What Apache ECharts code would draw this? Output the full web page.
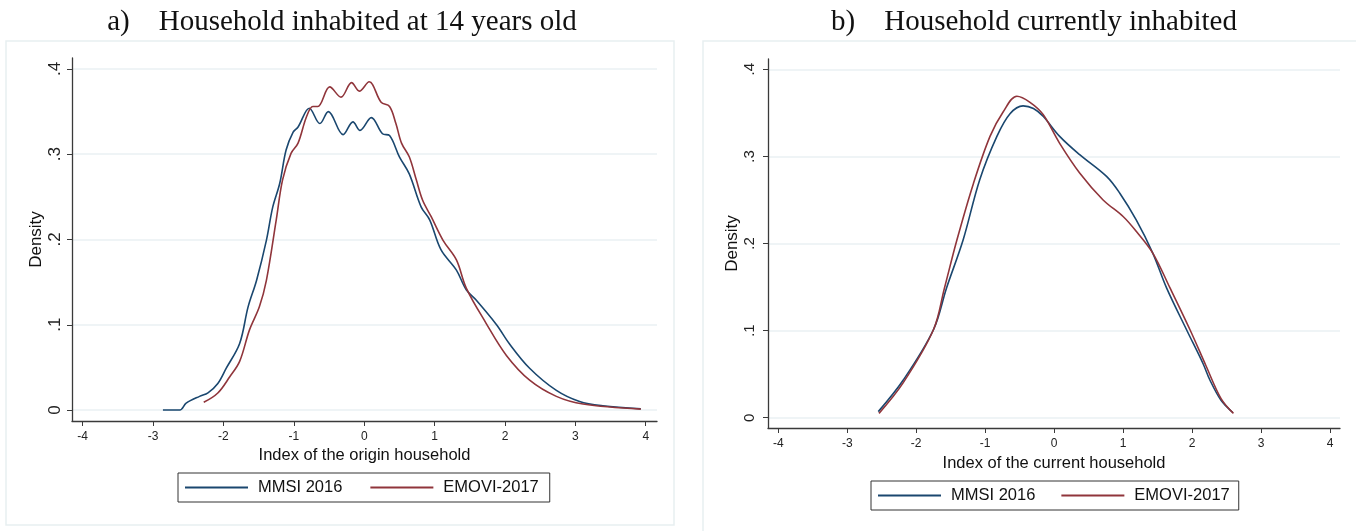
<!DOCTYPE html>
<html>
<head>
<meta charset="utf-8">
<script src="https://cdn.jsdelivr.net/npm/echarts@6/dist/echarts.min.js"></script>
<style>
  html, body { margin: 0; padding: 0; background: #fff; }
  #main { width: 1356px; height: 531px; }
</style>
</head>
<body>
<div id="main"></div>
<script>
// panel titles
var panelTitles = ['a)    Household inhabited at 14 years old', 'b)    Household currently inhabited'];
var axisNames = ['Index of the origin household', 'Index of the current household'];
var seriesNames = ['MMSI 2016', 'EMOVI-2017'];

// tick values and labels
var xTicks = [-4, -3, -2, -1, 0, 1, 2, 3, 4];
var yTicks = [0, 0.1, 0.2, 0.3, 0.4];
var yTickLabels = ['0', '.1', '.2', '.3', '.4'];

// a) origin household density [index, density]
var originMMSI = [
  [-2.86, 0], [-2.62, 0], [-2.53, 0.008], [-2.34, 0.016], [-2.22, 0.020], [-2.08, 0.031],
  [-1.96, 0.049], [-1.77, 0.078], [-1.65, 0.121], [-1.53, 0.152], [-1.39, 0.199], [-1.30, 0.238],
  [-1.20, 0.266], [-1.11, 0.305], [-1.01, 0.326], [-0.94, 0.332], [-0.78, 0.354], [-0.63, 0.336],
  [-0.51, 0.350], [-0.30, 0.323], [-0.16, 0.338], [-0.06, 0.328], [0.10, 0.343], [0.26, 0.324],
  [0.36, 0.322], [0.50, 0.297], [0.64, 0.277], [0.81, 0.238], [0.93, 0.223], [1.09, 0.188],
  [1.31, 0.164], [1.45, 0.141], [1.59, 0.129], [1.88, 0.100], [2.06, 0.078], [2.35, 0.049],
  [2.73, 0.023], [3.06, 0.010], [3.39, 0.005], [3.93, 0.0015]
];
var originEMOVI = [
  [-2.28, 0.009], [-2.08, 0.020], [-1.91, 0.039], [-1.77, 0.057], [-1.63, 0.094], [-1.49, 0.121],
  [-1.39, 0.152], [-1.25, 0.223], [-1.16, 0.270], [-1.04, 0.301], [-0.94, 0.313], [-0.82, 0.344],
  [-0.73, 0.356], [-0.66, 0.356], [-0.49, 0.379], [-0.33, 0.367], [-0.18, 0.384], [-0.07, 0.374],
  [0.07, 0.385], [0.24, 0.361], [0.36, 0.356], [0.45, 0.336], [0.53, 0.313], [0.64, 0.297],
  [0.74, 0.270], [0.83, 0.246], [0.95, 0.227], [1.12, 0.199], [1.31, 0.176], [1.45, 0.143],
  [1.73, 0.102], [2.02, 0.064], [2.35, 0.035], [2.73, 0.016], [3.11, 0.007], [3.93, 0.001]
];

// b) current household density
var currentMMSI = [
  [-2.55, 0.007], [-2.19, 0.043], [-1.75, 0.101], [-1.56, 0.149], [-1.32, 0.204], [-1.08, 0.273],
  [-0.83, 0.323], [-0.64, 0.349], [-0.45, 0.358], [-0.30, 0.355], [-0.16, 0.346], [0.08, 0.323],
  [0.37, 0.302], [0.76, 0.277], [0.95, 0.258], [1.19, 0.227], [1.43, 0.189], [1.63, 0.149],
  [1.92, 0.101], [2.16, 0.062], [2.26, 0.043], [2.42, 0.020], [2.59, 0.006]
];
var currentEMOVI = [
  [-2.54, 0.005], [-2.19, 0.040], [-1.75, 0.101], [-1.59, 0.149], [-1.41, 0.204], [-1.17, 0.269],
  [-0.93, 0.323], [-0.74, 0.351], [-0.54, 0.369], [-0.35, 0.362], [-0.16, 0.348], [0.08, 0.315],
  [0.37, 0.281], [0.71, 0.250], [1.00, 0.231], [1.19, 0.214], [1.43, 0.189], [1.68, 0.149],
  [1.97, 0.101], [2.20, 0.060], [2.42, 0.022], [2.60, 0.005]
];

var navy = '#1a476f';
var maroon = '#90353b';
var axisColor = '#3a3a3a';
var gridColor = '#eaf1f3';

function xAxisOf(idx, name, xmin, xmax, gap) {
  return {
    type: 'value', gridIndex: idx, min: xmin, max: xmax,
    name: name, nameLocation: 'middle', nameGap: gap, nameMoveOverlap: false,
    nameTextStyle: { fontFamily: 'Liberation Sans', fontSize: 16.5, color: '#111' },
    axisLine: { show: true, onZero: false, lineStyle: { color: axisColor, width: 1.3 } },
    axisTick: { show: true, length: 5, customValues: xTicks, lineStyle: { color: axisColor, width: 1 } },
    axisLabel: { customValues: xTicks, fontFamily: 'Liberation Sans', fontSize: 12, color: '#222', margin: 10 },
    splitLine: { show: false }
  };
}

function yAxisOf(idx, ymin, ymax, fs, margin, gap) {
  return {
    type: 'value', gridIndex: idx, min: ymin, max: ymax,
    name: 'Density', nameLocation: 'middle', nameRotate: 90, nameGap: gap, nameMoveOverlap: false,
    nameTextStyle: { fontFamily: 'Liberation Sans', fontSize: 17, color: '#111' },
    axisLine: { show: true, onZero: false, lineStyle: { color: axisColor, width: 1.3 } },
    axisTick: { show: true, length: 5, customValues: yTicks, lineStyle: { color: axisColor, width: 1 } },
    axisLabel: {
      customValues: yTicks, rotate: 90, margin: margin,
      fontFamily: 'Liberation Sans', fontSize: fs, color: '#222',
      formatter: function (v) {
        var i = yTicks.findIndex(function (t) { return Math.abs(t - v) < 1e-6; });
        return i >= 0 ? yTickLabels[i] : '';
      }
    },
    splitLine: { show: true, lineStyle: { color: gridColor, width: 1.5 } }
  };
}

function lineSeries(name, data, xi, color) {
  return {
    name: name, type: 'line', xAxisIndex: xi, yAxisIndex: xi, data: data,
    smooth: 0.35, showSymbol: false, symbol: 'none',
    lineStyle: { color: color, width: 1.6 }, itemStyle: { color: color },
    emphasis: { disabled: true }
  };
}

function legendOf(left, top, pad, gap) {
  return {
    left: left, top: top, orient: 'horizontal',
    data: seriesNames, icon: 'rect', itemWidth: 63, itemHeight: 2, itemGap: gap,
    padding: pad, borderColor: '#333', borderWidth: 1, selectedMode: false,
    textStyle: { fontFamily: 'Liberation Sans', fontSize: 16.5, color: '#111', padding: [0, 0, 0, 5] }
  };
}

var chart = echarts.init(document.getElementById('main'));
chart.setOption({
  animation: false,
  backgroundColor: '#fff',
  title: [
    { text: panelTitles[0], left: 337, top: 3, textAlign: 'center',
      textStyle: { fontFamily: 'Liberation Serif', fontSize: 29, fontWeight: 'normal', color: '#111' } },
    { text: panelTitles[1], left: 1029, top: 3, textAlign: 'center',
      textStyle: { fontFamily: 'Liberation Serif', fontSize: 29, fontWeight: 'normal', color: '#111' } }
  ],
  graphic: [
    { type: 'rect', shape: { x: 6, y: 41, width: 668, height: 484 }, silent: true,
      style: { fill: 'none', stroke: '#e8eff1', lineWidth: 1.5 }, z: -1 },
    { type: 'rect', shape: { x: 703, y: 41, width: 660, height: 500 }, silent: true,
      style: { fill: 'none', stroke: '#e8eff1', lineWidth: 1.5 }, z: -1 }
  ],
  grid: [
    { left: 72, top: 58, width: 585, height: 363, outerBoundsMode: 'none' },
    { left: 768, top: 59, width: 572, height: 369, outerBoundsMode: 'none' }
  ],
  xAxis: [
    xAxisOf(0, axisNames[0], -4.152, 4.16, 26),
    xAxisOf(1, axisNames[1], -4.149, 4.145, 27)
  ],
  yAxis: [
    yAxisOf(0, -0.0129, 0.4129, 17, 8, 27),
    yAxisOf(1, -0.0118, 0.4118, 15, 11, 27)
  ],
  legend: [
    legendOf(178, 473, [6, 11, 6, 7], 28),
    legendOf(871, 481, [6, 9, 6, 7], 26)
  ],
  series: [
    lineSeries(seriesNames[0], originMMSI, 0, navy),
    lineSeries(seriesNames[1], originEMOVI, 0, maroon),
    lineSeries(seriesNames[0], currentMMSI, 1, navy),
    lineSeries(seriesNames[1], currentEMOVI, 1, maroon)
  ]
});
</script>
</body>
</html>
